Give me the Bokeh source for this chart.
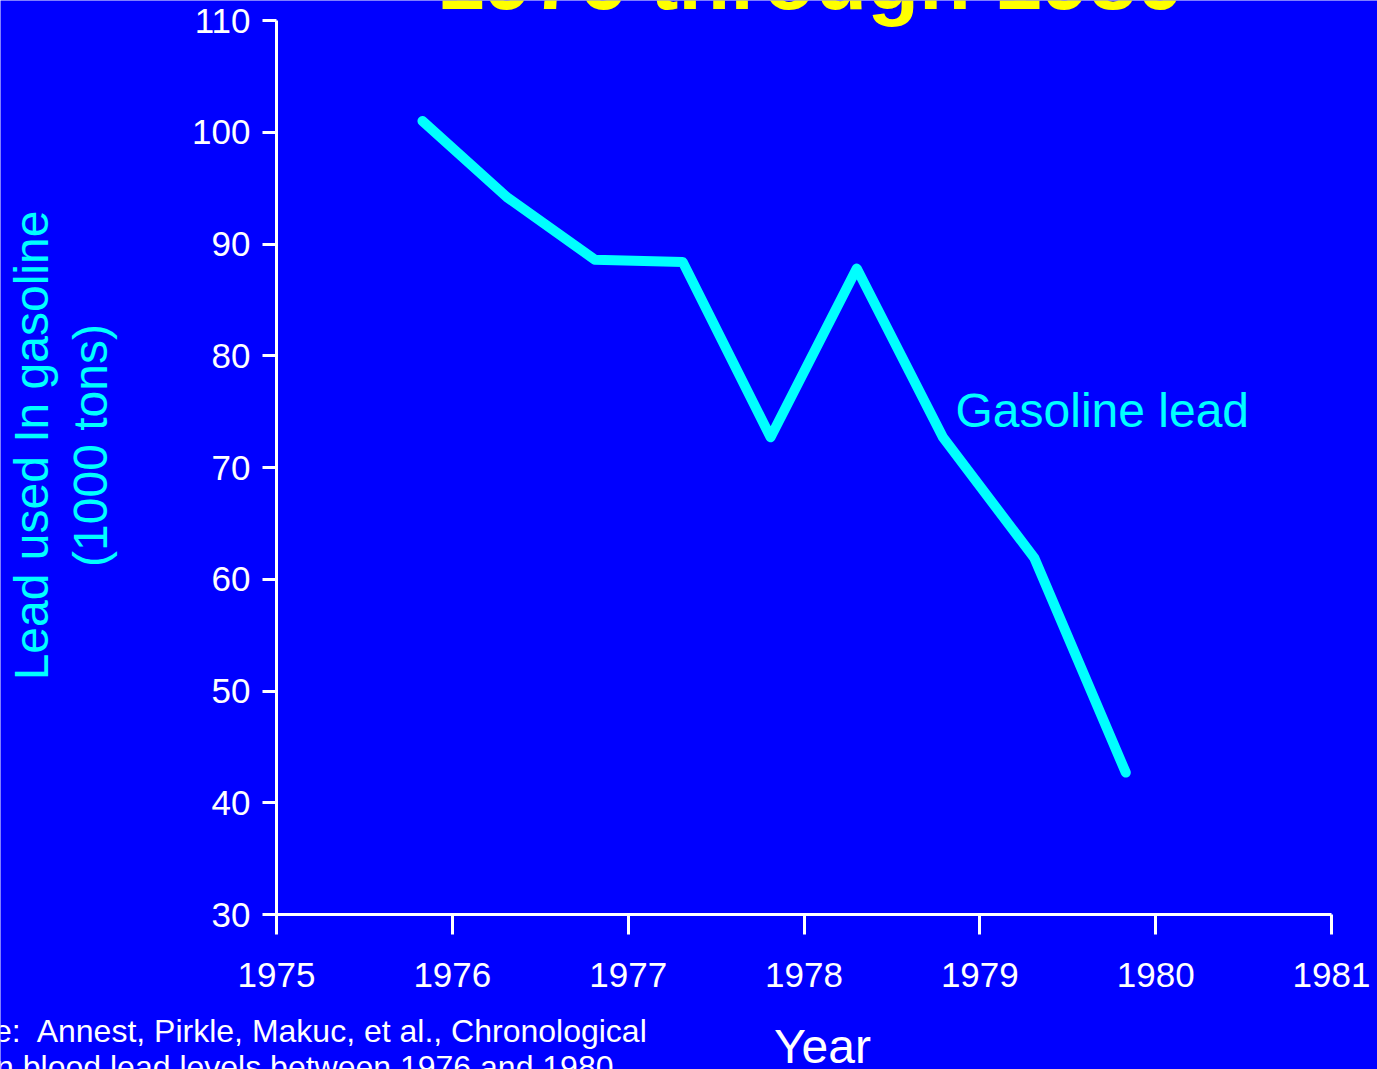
from bokeh.plotting import figure
from bokeh.models import Label, FixedTicker, LinearAxis, Range1d
from bokeh.embed import file_html
from bokeh.resources import INLINE
import math

# ---- data ----
years = [1975.83, 1976.31, 1976.81, 1977.31, 1977.81, 1978.30, 1978.79, 1979.31, 1979.83]
lead_tons = [101.0, 94.2, 88.6, 88.4, 72.7, 87.8, 72.7, 61.9, 42.7]
x_ticks = [1975, 1976, 1977, 1978, 1979, 1980, 1981]
y_ticks = [30, 40, 50, 60, 70, 80, 90, 100, 110]

title_text = "1976 through 1980"
y_label_1 = "Lead used In gasoline"
y_label_2 = "(1000 tons)"
series_label = "Gasoline lead"
x_label = "Year"
source_1 = "e:\u00a0 Annest, Pirkle, Makuc, et al., Chronological"
source_2 = "in blood lead levels between 1976 and 1980"

BG = "#0000ff"
CYAN = "#00ffff"
FONT = "Liberation Sans"

W, H = 1377, 1069
# axis geometry on the page (pixels): 1975 at x=276, 1981 at x=1331; 110 at y=20, 30 at y=914
PX_PER_YEAR = (1331 - 276) / 6.0
PX_PER_UNIT = (914 - 20) / 80.0

def dx(px):
    return 1975 + (px - 276) / PX_PER_YEAR

def dy(py):
    return 30 + (914 - py) / PX_PER_UNIT

p = figure(width=W, height=H,
           x_range=Range1d(dx(0), dx(W)), y_range=Range1d(dy(H), dy(0)),
           x_axis_location=None, y_axis_location=None,
           output_backend="svg", toolbar_location=None,
           background_fill_color=BG, border_fill_color=BG, outline_line_color=None,
           min_border_left=0, min_border_right=0, min_border_top=0, min_border_bottom=0)
p.grid.visible = False

xaxis = LinearAxis(fixed_location=30, bounds=(1975, 1981), ticker=FixedTicker(ticks=x_ticks))
yaxis = LinearAxis(fixed_location=1975, bounds=(30, 110), ticker=FixedTicker(ticks=y_ticks))
for ax in (xaxis, yaxis):
    ax.axis_line_color = "white"
    ax.axis_line_width = 3
    ax.major_tick_line_color = "white"
    ax.major_tick_line_width = 3
    ax.minor_tick_line_color = None
    ax.major_tick_in = 0
    ax.major_label_text_color = "white"
    ax.major_label_text_font = FONT
    ax.major_label_text_font_size = "35px"
xaxis.major_tick_out = 20
yaxis.major_tick_out = 14
xaxis.major_label_standoff = 28
yaxis.major_label_standoff = 12
p.add_layout(xaxis, "below")
p.add_layout(yaxis, "left")

p.line(years, lead_tons, line_color=CYAN, line_width=10, line_cap="round", line_join="round")

p.add_layout(Label(x=dx(810), y=dy(-21), text=title_text, text_color="#ffff00",
                   text_font=FONT, text_font_style="bold", text_font_size="85px",
                   text_align="center", text_baseline="alphabetic"))
p.add_layout(Label(x=dx(31), y=dy(445), text=y_label_1, text_color=CYAN, angle=math.pi / 2,
                   text_font=FONT, text_font_size="48px",
                   text_align="center", text_baseline="alphabetic"))
p.add_layout(Label(x=dx(90), y=dy(445), text=y_label_2, text_color=CYAN, angle=math.pi / 2,
                   text_font=FONT, text_font_size="48px",
                   text_align="center", text_baseline="alphabetic"))
p.add_layout(Label(x=dx(955), y=dy(410), text=series_label, text_color=CYAN,
                   text_font=FONT, text_font_size="48px",
                   text_align="left", text_baseline="alphabetic"))
p.add_layout(Label(x=dx(822), y=dy(1046), text=x_label, text_color="white",
                   text_font=FONT, text_font_size="48px",
                   text_align="center", text_baseline="alphabetic"))
p.add_layout(Label(x=dx(648), y=dy(1030), text=source_1, text_color="white",
                   text_font=FONT, text_font_size="32px",
                   text_align="right", text_baseline="alphabetic"))
p.add_layout(Label(x=dx(613), y=dy(1066), text=source_2, text_color="white",
                   text_font=FONT, text_font_size="32px",
                   text_align="right", text_baseline="alphabetic"))

open("out.html", "w").write(file_html(p, INLINE))
